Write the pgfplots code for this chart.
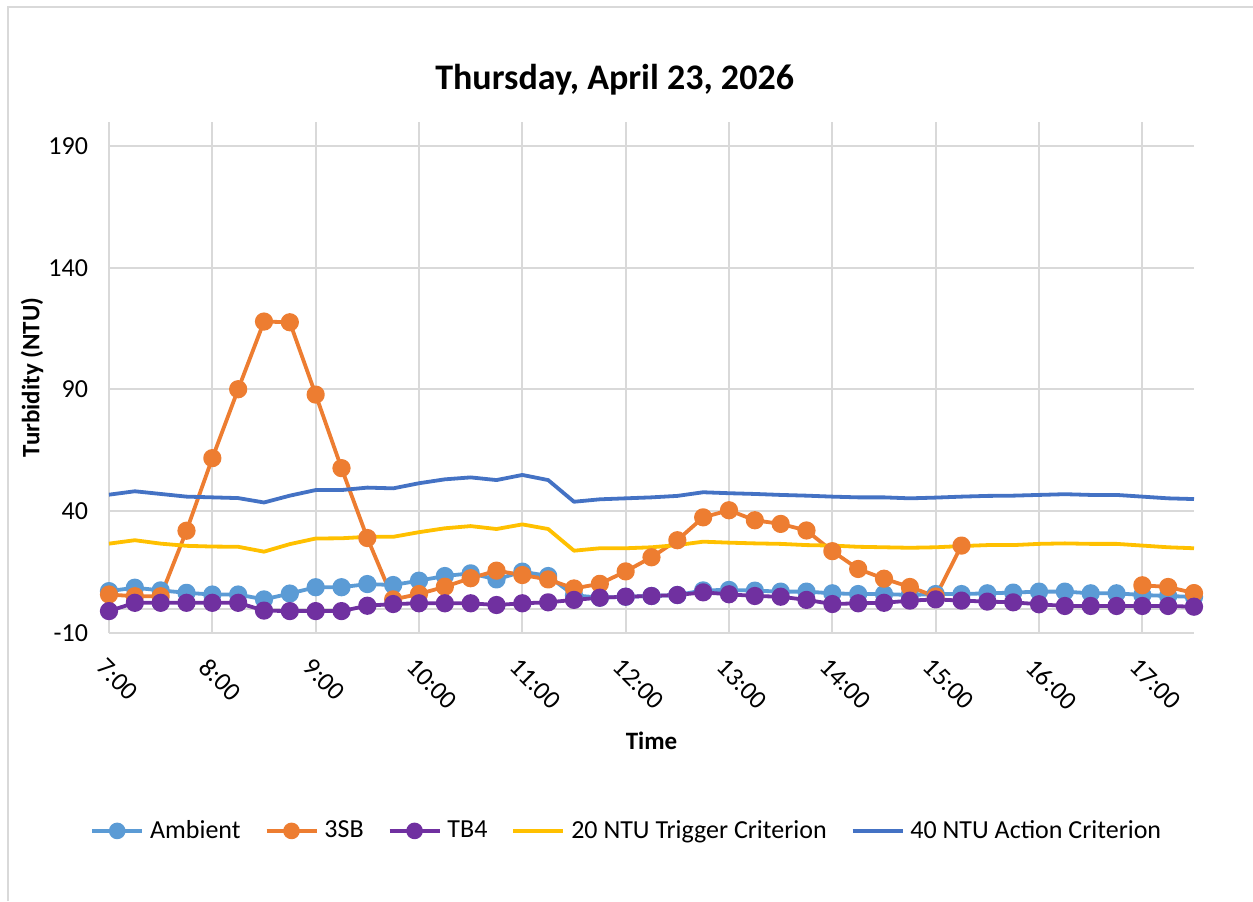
\documentclass[border=0pt]{standalone}
\usepackage{fontspec}
\setmainfont{Carlito}
\usepackage{pgfplots}
\pgfplotsset{compat=1.18}
\usepackage{pgfplotstable}

\definecolor{ambient}{HTML}{5B9BD5}
\definecolor{sb}{HTML}{ED7D31}
\definecolor{tb}{HTML}{7030A0}
\definecolor{trig}{HTML}{FFC000}
\definecolor{act}{HTML}{4472C4}
\definecolor{gridgray}{HTML}{D9D9D9}

% time in hours, turbidity in NTU
\pgfplotstableread{
t     amb   sb     tb    trig  act
7.00  7.2   5.8    -1.0  26.7  46.8
7.25  8.6   5.1    2.4   28.1  48.2
7.50  7.5   5.1    2.4   26.7  47.1
7.75  6.5   32.0   2.4   25.8  46.0
8.00  5.8   61.8   2.4   25.5  45.7
8.25  5.8   90.1   2.4   25.4  45.4
8.50  3.8   117.9  -0.8  23.4  43.6
8.75  6.2   117.6  -1.0  26.5  46.4
9.00  8.8   87.9   -1.0  28.8  48.7
9.25  8.8   57.7   -1.0  28.9  48.7
9.50  10.1  29.0   1.2   29.5  49.7
9.75  9.7   3.8    1.9   29.5  49.4
10.00 11.5  6.0    2.2   31.4  51.5
10.25 13.4  9.0    2.2   33.0  53.1
10.50 14.5  12.5   2.2   33.9  53.9
10.75 12.0  15.6   1.5   32.7  52.8
11.00 15.2  13.8   2.2   34.6  54.9
11.25 13.4  12.0   2.6   32.7  52.8
11.50 5.5   8.3    3.6   23.8  43.9
11.75 4.5   10.2   4.5   24.8  44.9
12.00 4.9   15.3   4.9   24.8  45.3
12.25 5.2   21.1   5.2   25.2  45.7
12.50 5.6   28.1   5.6   26.1  46.3
12.75 7.5   37.5   6.7   27.5  47.8
13.00 7.7   40.4   5.9   27.1  47.4
13.25 7.4   36.3   5.2   26.8  47.1
13.50 7.0   34.8   4.9   26.6  46.7
13.75 7.0   32.1   3.6   26.1  46.4
14.00 6.3   23.6   1.9   25.9  46.0
14.25 6.0   16.3   2.2   25.4  45.7
14.50 6.0   12.3   2.4   25.2  45.7
14.75 5.6   8.9    3.3   25.0  45.3
15.00 6.0   5.0    3.8   25.2  45.6
15.25 6.0   25.9   3.3   25.7  46.0
15.50 6.3   nan    2.9   26.1  46.3
15.75 6.6   nan    2.6   26.1  46.4
16.00 7.0   nan    1.8   26.6  46.7
16.25 7.0   nan    1.1   26.8  47.0
16.50 6.3   nan    1.1   26.6  46.7
16.75 6.3   nan    1.1   26.6  46.7
17.00 5.6   9.6    1.1   25.9  46.0
17.25 5.2   8.9    1.1   25.2  45.3
17.50 4.8   6.4    0.8   24.8  45.0
}\turb

\begin{document}
\begin{tikzpicture}
\useasboundingbox (0,0) rectangle (626.5pt,450.5pt);
\draw[gridgray, line width=1pt] (4pt,0) -- (4pt,447pt) -- (626.5pt,447pt);
\begin{axis}[
  at={(54.5pt,134pt)}, anchor=south west,
  scale only axis, width=542.5pt, height=255.7pt,
  xmin=7, xmax=17.5, ymin=-10, ymax=200,
  clip=false,
  unbounded coords=jump,
  axis line style={draw=none},
  major tick length=0pt,
  xtick={7,...,17},
  xticklabels={7:00,8:00,9:00,10:00,11:00,12:00,13:00,14:00,15:00,16:00,17:00},
  ytick={-10,40,90,140,190},
  yticklabels={-10,40,90,140,190},
  extra y ticks={0}, extra y tick labels={},
  xmajorgrids, ymajorgrids,
  grid style={gridgray, line width=1pt},
  ticklabel style={font=\fontsize{13}{15.6}\selectfont},
  yticklabel style={anchor=east, xshift=-7pt},
  xticklabel style={xshift=-1pt, yshift=-7pt, rotate=-45, anchor=north west},
  title={Thursday, April 23, 2026},
  title style={at={(0.466,1.058)}, anchor=center, font=\bfseries\fontsize{18}{21.6}\selectfont},
  xlabel={Time},
  xlabel style={at={(0.5,-0.211)}, anchor=center, font=\bfseries\fontsize{12.5}{15}\selectfont},
  ylabel={Turbidity (NTU)},
  ylabel style={at={(-0.071,0.5)}, anchor=center, rotate=0, font=\bfseries\fontsize{12.5}{15}\selectfont},
  legend columns=5,
  legend style={at={(0.479,-0.387)}, anchor=center, draw=none,
    font=\fontsize{13}{15.6}\selectfont,
    /tikz/every even column/.append style={column sep=9pt},
    nodes={inner sep=3pt}},
  legend image code/.code={
    \draw[mark repeat=2, mark phase=2, mark size=3.2pt]
      plot coordinates {(0pt,0pt) (12.5pt,0pt) (25pt,0pt)};},
  every axis plot/.append style={line width=1.9pt, line join=round},
]
\addplot[color=ambient, mark=*, mark size=3.6pt] table[x=t, y=amb] {\turb};
\addlegendentry{Ambient}
\addplot[color=sb, mark=*, mark size=3.6pt] table[x=t, y=sb] {\turb};
\addlegendentry{3SB}
\addplot[color=tb, mark=*, mark size=3.6pt] table[x=t, y=tb] {\turb};
\addlegendentry{TB4}
\addplot[color=trig, no markers] table[x=t, y=trig] {\turb};
\addlegendentry{20 NTU Trigger Criterion}
\addplot[color=act, no markers] table[x=t, y=act] {\turb};
\addlegendentry{40 NTU Action Criterion}
\end{axis}
\end{tikzpicture}
\end{document}
